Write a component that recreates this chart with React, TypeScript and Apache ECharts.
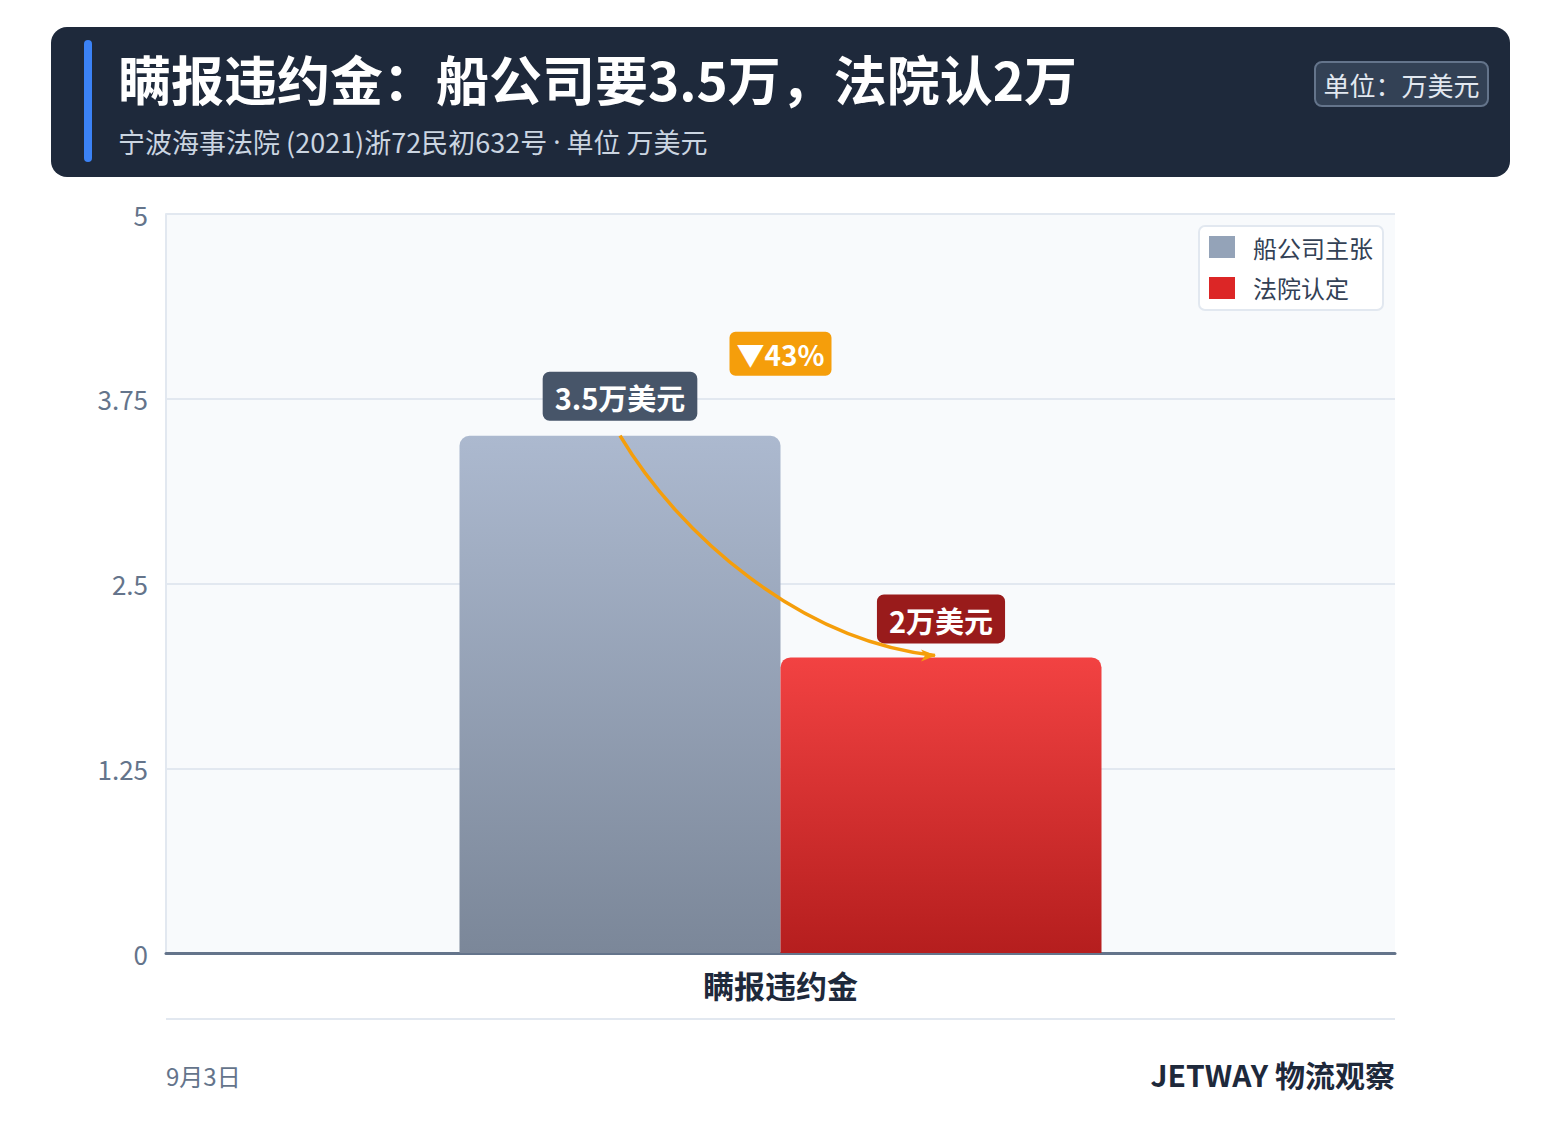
import React, { useEffect, useRef } from "react";
import * as echarts from "echarts";

const CATEGORIES = ["瞒报违约金"];
const SERIES_NAMES = ["船公司主张", "法院认定"];
const CLAIM = [3.5];
const RULED = [2];
const Y_TICKS = [0, 1.25, 2.5, 3.75, 5];
const TITLE = "瞒报违约金：船公司要3.5万，法院认2万";
const SUBTITLE = "宁波海事法院 (2021)浙72民初632号 · 单位 万美元";
const UNIT_BADGE = "单位：万美元";
const FOOT_LEFT = "9月3日";
const FOOT_RIGHT = "JETWAY 物流观察";

const FONT = '"Noto Sans CJK SC", "Noto Sans", sans-serif';
const W = 1561;
const H = 1145;
const GRID = { left: 166, right: 166, top: 214, bottom: 192 };
const BAR_W = 321;

export default function App() {
  const ref = useRef<HTMLDivElement>(null);
  useEffect(() => {
    if (!ref.current) return;
    const chart = echarts.init(ref.current, null, { renderer: "svg" });
    const subParts = SUBTITLE.split("·");
    const headerGraphics: any[] = [
      {
        type: "rect",
        shape: { x: 51, y: 27, width: 1459, height: 150, r: 16 },
        style: { fill: "#1e293b" },
      },
      {
        type: "rect",
        shape: { x: 84, y: 40, width: 8, height: 122, r: 4 },
        style: { fill: "#3b82f6" },
      },
      {
        type: "text",
        x: 118,
        y: 78,
        style: {
          text: TITLE,
          fill: "#ffffff",
          font: `bold 53px ${FONT}`,
          verticalAlign: "middle",
        },
      },
      {
        type: "text",
        x: 118,
        y: 141,
        style: {
          text: subParts.join("{d|·}"),
          fill: "#cbd5e1",
          font: `27px ${FONT}`,
          verticalAlign: "middle",
          rich: {
            d: {
              fontFamily: '"Noto Sans", sans-serif',
              fontSize: 27,
              fill: "#cbd5e1",
            },
          },
        },
      },
      {
        type: "rect",
        shape: { x: 1315, y: 62, width: 173, height: 44, r: 7 },
        style: { fill: "#334155", stroke: "#64748b", lineWidth: 2 },
      },
      {
        type: "text",
        x: 1401.5,
        y: 84,
        style: {
          text: UNIT_BADGE,
          fill: "#e2e8f0",
          font: `26px ${FONT}`,
          align: "center",
          verticalAlign: "middle",
        },
      },
      {
        type: "line",
        shape: { x1: 166, y1: 1019, x2: 1395, y2: 1019 },
        style: { stroke: "#e2e8f0", lineWidth: 2 },
      },
      {
        type: "text",
        x: 166,
        y: 1075,
        style: {
          text: FOOT_LEFT,
          fill: "#64748b",
          font: `24px ${FONT}`,
          verticalAlign: "middle",
        },
      },
      {
        type: "text",
        x: 1395,
        y: 1074,
        style: {
          text: FOOT_RIGHT,
          fill: "#1e293b",
          font: `bold 30px ${FONT}`,
          align: "right",
          verticalAlign: "middle",
        },
      },
    ];

    const labelBase = {
      show: true,
      position: "top",
      formatter: (p: any) => `${p.value}万美元`,
      color: "#ffffff",
      fontSize: 29,
      fontWeight: "bold",
      fontFamily: FONT,
      padding: [11, 12, 9, 12],
      borderRadius: 7,
    };

    const option: any = {
      animation: false,
      backgroundColor: "#ffffff",
      textStyle: { fontFamily: FONT },
      grid: {
        ...GRID,
        show: true,
        backgroundColor: "#f8fafc",
        borderWidth: 0,
      },
      legend: {
        data: [
          { name: SERIES_NAMES[0], itemStyle: { color: "#94a3b8" } },
          { name: SERIES_NAMES[1], itemStyle: { color: "#dc2626" } },
        ],
        orient: "vertical",
        right: 178,
        top: 226,
        padding: [9, 10, 10, 10],
        backgroundColor: "#ffffff",
        borderColor: "#e2e8f0",
        borderWidth: 2,
        borderRadius: 6,
        itemWidth: 26,
        itemHeight: 22,
        itemGap: 17,
        icon: "rect",
        textStyle: {
          fontSize: 24,
          color: "#334155",
          fontFamily: FONT,
          padding: [0, 0, 0, 13],
        },
      },
      xAxis: {
        type: "category",
        data: CATEGORIES,
        axisLine: { lineStyle: { color: "#64748b", width: 3 } },
        axisTick: { show: false },
        axisLabel: {
          fontSize: 31,
          fontWeight: "bold",
          color: "#1e293b",
          margin: 16,
          fontFamily: FONT,
        },
      },
      yAxis: {
        type: "value",
        min: Y_TICKS[0],
        max: Y_TICKS[Y_TICKS.length - 1],
        interval: Y_TICKS[1] - Y_TICKS[0],
        axisLine: { show: true, lineStyle: { color: "#e2e8f0", width: 2 } },
        axisTick: { show: false },
        splitLine: { lineStyle: { color: "#e2e8f0", width: 2 } },
        axisLabel: {
          fontSize: 26,
          color: "#64748b",
          margin: 18,
          fontFamily: FONT,
        },
      },
      series: [
        {
          name: SERIES_NAMES[0],
          type: "bar",
          data: CLAIM,
          barWidth: BAR_W,
          barGap: "0%",
          itemStyle: {
            borderRadius: [10, 10, 0, 0],
            color: new echarts.graphic.LinearGradient(0, 0, 0, 1, [
              { offset: 0, color: "#acb9cf" },
              { offset: 1, color: "#7b8799" },
            ]),
          },
          label: { ...labelBase, distance: 15, backgroundColor: "#475569" },
        },
        {
          name: SERIES_NAMES[1],
          type: "bar",
          data: RULED,
          barWidth: BAR_W,
          itemStyle: {
            borderRadius: [10, 10, 0, 0],
            color: new echarts.graphic.LinearGradient(0, 0, 0, 1, [
              { offset: 0, color: "#f24242" },
              { offset: 1, color: "#b51e1e" },
            ]),
          },
          label: { ...labelBase, distance: 14, backgroundColor: "#991b1b" },
        },
      ],
      graphic: headerGraphics,
    };
    chart.setOption(option);

    // annotation (arrow + percentage badge) placed from the chart's own scales
    const cx = chart.convertToPixel({ xAxisIndex: 0 }, CATEGORIES[0]) as number;
    const y0 = chart.convertToPixel({ yAxisIndex: 0 }, CLAIM[0]) as number;
    const y1 = chart.convertToPixel({ yAxisIndex: 0 }, RULED[0]) as number;
    const sx = cx - BAR_W / 2;
    const ex = cx + BAR_W / 2 - 6;
    const ey = y1 - 2;
    const pct = Math.round((1 - RULED[0] / CLAIM[0]) * 100);
    const annot: any[] = [
      {
        type: "bezierCurve",
        shape: {
          x1: sx,
          y1: y0,
          cpx1: sx + 60,
          cpy1: y0 + 100,
          cpx2: ex - 135,
          cpy2: ey - 15,
          x2: ex,
          y2: ey,
        },
        style: { stroke: "#f59e0b", lineWidth: 3.5, fill: null },
        z: 100,
      },
      {
        type: "polygon",
        shape: {
          points: [
            [ex - 14, ey - 6],
            [ex + 1, ey],
            [ex - 14, ey + 6],
            [ex - 10, ey],
          ],
        },
        style: { fill: "#f59e0b" },
        z: 100,
      },
      {
        type: "rect",
        shape: { x: cx - 51, y: y0 - 104, width: 102, height: 44, r: 6 },
        style: { fill: "#f59e0b" },
        z: 100,
      },
      {
        type: "text",
        x: cx,
        y: y0 - 82,
        style: {
          text: `▼${pct}%`,
          fill: "#ffffff",
          font: `bold 28px ${FONT}`,
          align: "center",
          verticalAlign: "middle",
        },
        z: 101,
      },
    ];
    chart.setOption({ graphic: [...headerGraphics, ...annot] });

    return () => chart.dispose();
  }, []);
  return (
    <div
      ref={ref}
      style={{
        position: "fixed",
        left: 0,
        top: 0,
        width: `${W}px`,
        height: `${H}px`,
        background: "#ffffff",
      }}
    />
  );
}
